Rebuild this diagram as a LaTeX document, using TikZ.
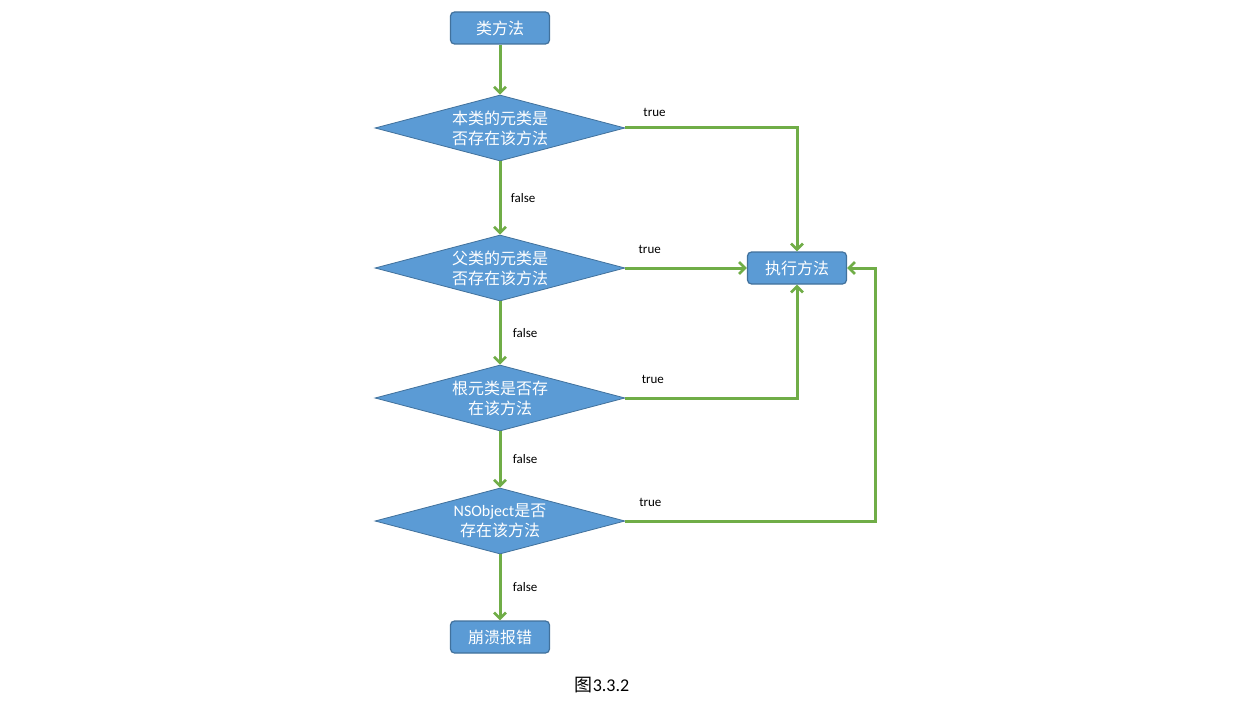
\documentclass[tikz,border=0pt]{standalone}
\usepackage{fontspec}
\setmainfont{Carlito}
\newfontfamily\cjk{Noto Sans CJK SC}
\usetikzlibrary{shapes.geometric, arrows.meta}
\definecolor{boxblue}{HTML}{5B9BD5}
\definecolor{boxedge}{HTML}{41719C}
\definecolor{flowgreen}{HTML}{70AD47}
\tikzset{
  stepbox/.style={draw=boxedge, fill=boxblue, line width=1.2pt, rounded corners=4pt,
    minimum width=99pt, minimum height=32pt, inner sep=0pt, text=white,
    font=\cjk\fontsize{16}{20}\selectfont},
  check/.style={diamond, draw=boxedge, fill=boxblue, line width=0.8pt, aspect=3.8,
    minimum width=250pt, minimum height=66pt, inner sep=0pt, text=white, align=center,
    font=\cjk\fontsize{16}{20}\selectfont},
  flow/.style={draw=flowgreen, line width=3pt, -{Straight Barb[length=6pt,width=12pt,line width=2.6pt]}},
  tag/.style={font=\fontsize{13}{15}\selectfont, text=black}
}
\begin{document}
\begin{tikzpicture}[x=1pt, y=-1pt]
    \useasboundingbox[fill=white] (0,0) rectangle (1240,706);
    % nodes
    \node[stepbox] (start) at (500,28) {类方法};
    \node[check] (meta) at (500,128) {本类的元类是\\否存在该方法};
    \node[check] (super) at (500,268) {父类的元类是\\否存在该方法};
    \node[check] (root) at (500,398) {根元类是否存\\在该方法};
    \node[check] (nsobj) at (500,521) {{\normalfont NSObject}是否\\存在该方法};
    \node[stepbox] (crash) at (500,637) {崩溃报错};
    \node[stepbox] (run) at (797,268) {执行方法};
    \coordinate (loop) at (875,521);
    % false path
    \draw[flow] (start) -- (meta);
    \draw[flow] (meta) -- (super) node[tag, pos=0.5, right=6pt] {false};
    \draw[flow] (super) -- (root) node[tag, pos=0.5, right=8pt] {false};
    \draw[flow] (root) -- (nsobj) node[tag, pos=0.5, right=8pt] {false};
    \draw[flow] (nsobj) -- (crash) node[tag, pos=0.5, right=8pt] {false};
    % true path
    \draw[flow] (meta.east) -| (run.north) node[tag, pos=0.085, above=7pt] {true};
    \draw[flow] (super.east) -- (run.west) node[tag, pos=0.2, above=10pt] {true};
    \draw[flow] (root.east) -| (run.south) node[tag, pos=0.08, above=10pt] {true};
    \draw[flow] (nsobj.east) -- (loop) node[tag, pos=0.1, above=10pt] {true} |- (run.east);
    % caption
    \node[font=\fontsize{18}{20}\selectfont] (caption) at (602,685) {{\cjk 图}3.3.2};
\end{tikzpicture}
\end{document}
